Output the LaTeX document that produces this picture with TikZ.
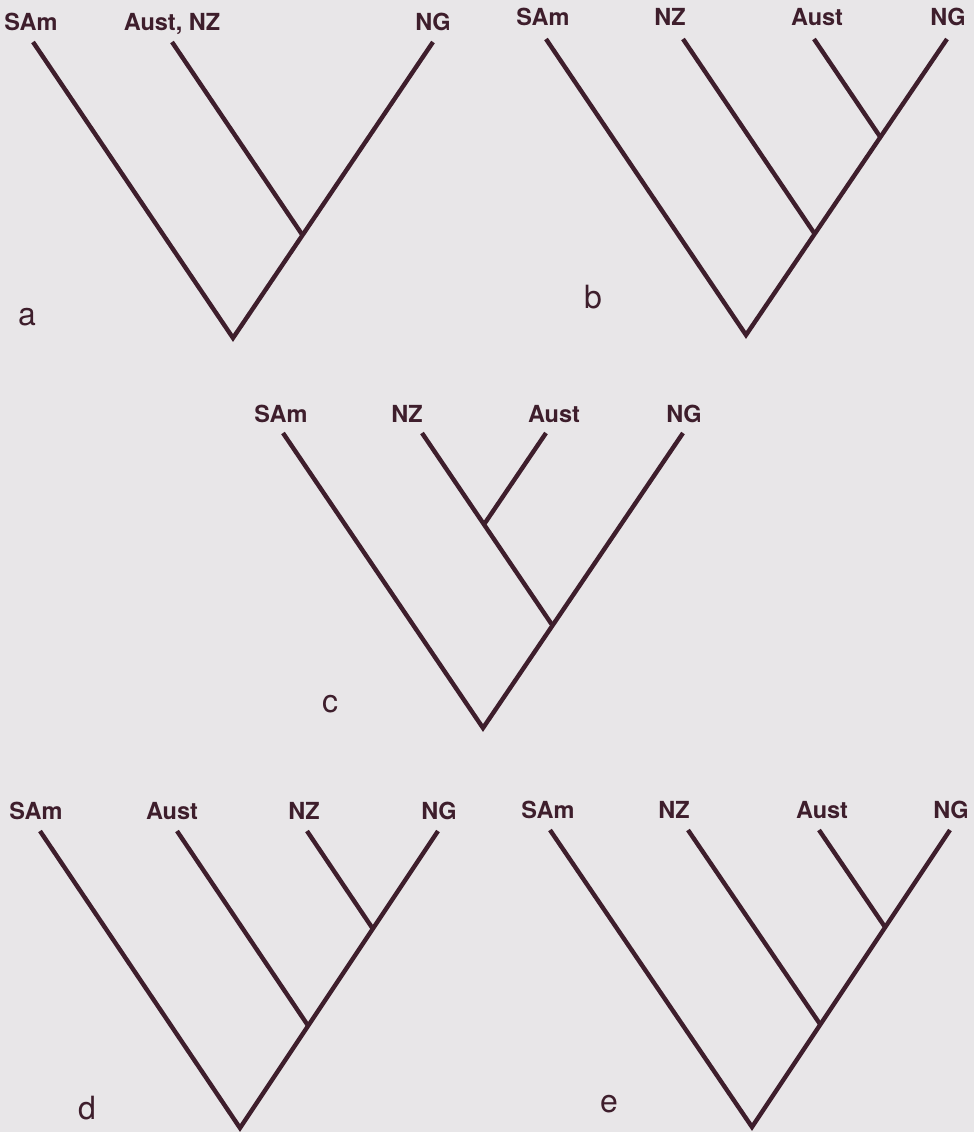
\documentclass[tikz,border=0pt]{standalone}
\usepackage{fontspec}
\setmainfont{TeX Gyre Heros}
\usetikzlibrary{calc}
\definecolor{bgc}{RGB}{232,230,232}
\definecolor{ink}{RGB}{62,30,44}
\tikzset{
  branch/.style={draw=ink, line width=4.4pt, line cap=butt, line join=miter},
  taxon/.style={anchor=base, inner sep=0pt, text=ink, font=\fontsize{23.5}{23.5}\selectfont\bfseries},
  panel/.style={anchor=base, inner sep=0pt, text=ink, font=\fontsize{32}{32}\selectfont},
}
\begin{document}
\begin{tikzpicture}[x=1pt,y=-1pt]
\useasboundingbox (0,0) rectangle (974,1132);
\fill[bgc] (0,0) rectangle (974,1132);

% ---------- a ----------
\node[taxon] (aLs) at (31,31) {SAm};
\node[taxon] (aLan) at (172,31) {Aust, NZ};
\node[taxon] (aLng) at (433,31) {NG};
\node[panel] (aP) at (27,325) {a};
\coordinate (aS) at (33,42);
\coordinate (aAN) at (172,42);
\coordinate (aNG) at (433,42);
\coordinate (aR) at (233,338);
\coordinate (aJ) at (intersection of aAN--{$(aAN)+(aR)-(aS)$} and aR--aNG);
\draw[branch] (aS) -- (aR) -- (aNG);
\draw[branch] (aAN) -- (aJ);

% ---------- b ----------
\node[taxon] (bLs) at (543,26) {SAm};
\node[taxon] (bLnz) at (670,26) {NZ};
\node[taxon] (bLau) at (817,26) {Aust};
\node[taxon] (bLng) at (948,26) {NG};
\node[panel] (bP) at (593,308) {b};
\coordinate (bS) at (546,39);
\coordinate (bNZ) at (683,39);
\coordinate (bAU) at (814,39);
\coordinate (bNG) at (947,39);
\coordinate (bR) at (746,335);
\coordinate (bJ1) at (intersection of bNZ--{$(bNZ)+(bR)-(bS)$} and bR--bNG);
\coordinate (bJ2) at (intersection of bAU--{$(bAU)+(bR)-(bS)$} and bR--bNG);
\draw[branch] (bS) -- (bR) -- (bNG);
\draw[branch] (bNZ) -- (bJ1);
\draw[branch] (bAU) -- (bJ2);

% ---------- c ----------
\node[taxon] (cLs) at (281,422) {SAm};
\node[taxon] (cLnz) at (407,422) {NZ};
\node[taxon] (cLau) at (554,422) {Aust};
\node[taxon] (cLng) at (684,422) {NG};
\node[panel] (cP) at (330,712) {c};
\coordinate (cS) at (283,433);
\coordinate (cNZ) at (422,433);
\coordinate (cAU) at (546,433);
\coordinate (cNG) at (683,433);
\coordinate (cR) at (483,728);
\coordinate (cJ1) at (intersection of cNZ--{$(cNZ)+(cR)-(cS)$} and cR--cNG);
\coordinate (cJ2) at (intersection of cAU--{$(cAU)+(cR)-(cNG)$} and cNZ--cJ1);
\draw[branch] (cS) -- (cR) -- (cNG);
\draw[branch] (cNZ) -- (cJ1);
\draw[branch] (cAU) -- (cJ2);

% ---------- d ----------
\node[taxon] (dLs) at (36,819) {SAm};
\node[taxon] (dLau) at (172,819) {Aust};
\node[taxon] (dLnz) at (304,819) {NZ};
\node[taxon] (dLng) at (439,819) {NG};
\node[panel] (dP) at (87,1119) {d};
\coordinate (dS) at (40,831);
\coordinate (dAU) at (177,831);
\coordinate (dNZ) at (307,831);
\coordinate (dNG) at (438,831);
\coordinate (dR) at (240,1128);
\coordinate (dJ1) at (intersection of dAU--{$(dAU)+(dR)-(dS)$} and dR--dNG);
\coordinate (dJ2) at (intersection of dNZ--{$(dNZ)+(dR)-(dS)$} and dR--dNG);
\draw[branch] (dS) -- (dR) -- (dNG);
\draw[branch] (dAU) -- (dJ1);
\draw[branch] (dNZ) -- (dJ2);

% ---------- e ----------
\node[taxon] (eLs) at (548,818) {SAm};
\node[taxon] (eLnz) at (674,818) {NZ};
\node[taxon] (eLau) at (822,818) {Aust};
\node[taxon] (eLng) at (951,818) {NG};
\node[panel] (eP) at (609,1112) {e};
\coordinate (eS) at (550,830);
\coordinate (eNZ) at (688,830);
\coordinate (eAU) at (819,830);
\coordinate (eNG) at (950,830);
\coordinate (eR) at (752,1127);
\coordinate (eJ1) at (intersection of eNZ--{$(eNZ)+(eR)-(eS)$} and eR--eNG);
\coordinate (eJ2) at (intersection of eAU--{$(eAU)+(eR)-(eS)$} and eR--eNG);
\draw[branch] (eS) -- (eR) -- (eNG);
\draw[branch] (eNZ) -- (eJ1);
\draw[branch] (eAU) -- (eJ2);
\end{tikzpicture}
\end{document}
